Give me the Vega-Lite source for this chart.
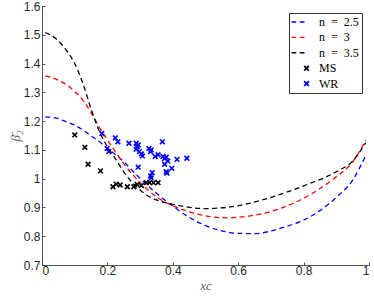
{
  "$schema": "https://vega.github.io/schema/vega-lite/v6.json",
  "autosize": "none",
  "width": 327,
  "height": 259,
  "padding": {"left": 42, "top": 6, "right": 5, "bottom": 33},
  "background": "white",
  "config": {
    "view": {"stroke": null},
    "axis": {
      "grid": false,
      "domainColor": "#262626",
      "domainWidth": 0.8,
      "tickColor": "#262626",
      "tickWidth": 0.8,
      "tickSize": -3,
      "labelFont": "Liberation Sans",
      "labelFontSize": 12,
      "labelColor": "#262626",
      "titleFont": "Liberation Serif",
      "titleFontStyle": "italic",
      "titleFontWeight": "normal",
      "titleFontSize": 13,
      "titleColor": "#666666"
    }
  },
  "datasets": {
    "curves": [
      {"s": "n = 2.5", "x": 0.01, "y": 1.215}, {"s": "n = 2.5", "x": 0.044, "y": 1.21}, {"s": "n = 2.5", "x": 0.074, "y": 1.198}, {"s": "n = 2.5", "x": 0.1, "y": 1.186}, {"s": "n = 2.5", "x": 0.125, "y": 1.169}, {"s": "n = 2.5", "x": 0.151, "y": 1.148}, {"s": "n = 2.5", "x": 0.176, "y": 1.128}, {"s": "n = 2.5", "x": 0.2, "y": 1.105}, {"s": "n = 2.5", "x": 0.227, "y": 1.082}, {"s": "n = 2.5", "x": 0.25, "y": 1.059}, {"s": "n = 2.5", "x": 0.278, "y": 1.026}, {"s": "n = 2.5", "x": 0.3, "y": 1.001}, {"s": "n = 2.5", "x": 0.35, "y": 0.949}, {"s": "n = 2.5", "x": 0.4, "y": 0.905}, {"s": "n = 2.5", "x": 0.45, "y": 0.866}, {"s": "n = 2.5", "x": 0.5, "y": 0.837}, {"s": "n = 2.5", "x": 0.56, "y": 0.816}, {"s": "n = 2.5", "x": 0.6, "y": 0.81}, {"s": "n = 2.5", "x": 0.65, "y": 0.809}, {"s": "n = 2.5", "x": 0.7, "y": 0.818}, {"s": "n = 2.5", "x": 0.75, "y": 0.835}, {"s": "n = 2.5", "x": 0.8, "y": 0.856}, {"s": "n = 2.5", "x": 0.85, "y": 0.889}, {"s": "n = 2.5", "x": 0.9, "y": 0.935}, {"s": "n = 2.5", "x": 0.95, "y": 0.995}, {"s": "n = 2.5", "x": 0.99, "y": 1.08},
      {"s": "n = 3", "x": 0.01, "y": 1.357}, {"s": "n = 3", "x": 0.044, "y": 1.345}, {"s": "n = 3", "x": 0.074, "y": 1.327}, {"s": "n = 3", "x": 0.1, "y": 1.303}, {"s": "n = 3", "x": 0.125, "y": 1.273}, {"s": "n = 3", "x": 0.151, "y": 1.228}, {"s": "n = 3", "x": 0.176, "y": 1.177}, {"s": "n = 3", "x": 0.2, "y": 1.135}, {"s": "n = 3", "x": 0.227, "y": 1.089}, {"s": "n = 3", "x": 0.25, "y": 1.052}, {"s": "n = 3", "x": 0.278, "y": 1.013}, {"s": "n = 3", "x": 0.3, "y": 0.987}, {"s": "n = 3", "x": 0.324, "y": 0.961}, {"s": "n = 3", "x": 0.35, "y": 0.937}, {"s": "n = 3", "x": 0.4, "y": 0.906}, {"s": "n = 3", "x": 0.45, "y": 0.885}, {"s": "n = 3", "x": 0.5, "y": 0.871}, {"s": "n = 3", "x": 0.56, "y": 0.864}, {"s": "n = 3", "x": 0.6, "y": 0.866}, {"s": "n = 3", "x": 0.7, "y": 0.886}, {"s": "n = 3", "x": 0.8, "y": 0.932}, {"s": "n = 3", "x": 0.9, "y": 1.007}, {"s": "n = 3", "x": 0.95, "y": 1.058}, {"s": "n = 3", "x": 0.99, "y": 1.133},
      {"s": "n = 3.5", "x": 0.01, "y": 1.508}, {"s": "n = 3.5", "x": 0.044, "y": 1.485}, {"s": "n = 3.5", "x": 0.074, "y": 1.447}, {"s": "n = 3.5", "x": 0.1, "y": 1.4}, {"s": "n = 3.5", "x": 0.125, "y": 1.331}, {"s": "n = 3.5", "x": 0.151, "y": 1.239}, {"s": "n = 3.5", "x": 0.176, "y": 1.163}, {"s": "n = 3.5", "x": 0.2, "y": 1.111}, {"s": "n = 3.5", "x": 0.227, "y": 1.065}, {"s": "n = 3.5", "x": 0.25, "y": 1.024}, {"s": "n = 3.5", "x": 0.278, "y": 0.984}, {"s": "n = 3.5", "x": 0.3, "y": 0.961}, {"s": "n = 3.5", "x": 0.324, "y": 0.94}, {"s": "n = 3.5", "x": 0.35, "y": 0.926}, {"s": "n = 3.5", "x": 0.4, "y": 0.911}, {"s": "n = 3.5", "x": 0.5, "y": 0.896}, {"s": "n = 3.5", "x": 0.6, "y": 0.906}, {"s": "n = 3.5", "x": 0.7, "y": 0.935}, {"s": "n = 3.5", "x": 0.8, "y": 0.975}, {"s": "n = 3.5", "x": 0.9, "y": 1.024}, {"s": "n = 3.5", "x": 0.95, "y": 1.061}, {"s": "n = 3.5", "x": 0.99, "y": 1.125}
    ],
    "points": [
      {"s": "MS", "x": 0.1, "y": 1.152}, {"s": "MS", "x": 0.131, "y": 1.109}, {"s": "MS", "x": 0.141, "y": 1.05}, {"s": "MS", "x": 0.179, "y": 1.027}, {"s": "MS", "x": 0.217, "y": 0.972}, {"s": "MS", "x": 0.227, "y": 0.981}, {"s": "MS", "x": 0.239, "y": 0.978}, {"s": "MS", "x": 0.261, "y": 0.972}, {"s": "MS", "x": 0.281, "y": 0.972}, {"s": "MS", "x": 0.291, "y": 0.98}, {"s": "MS", "x": 0.304, "y": 0.976}, {"s": "MS", "x": 0.319, "y": 0.986}, {"s": "MS", "x": 0.329, "y": 0.986}, {"s": "MS", "x": 0.341, "y": 0.986}, {"s": "MS", "x": 0.355, "y": 0.986},
      {"s": "WR", "x": 0.183, "y": 1.157}, {"s": "WR", "x": 0.224, "y": 1.142}, {"s": "WR", "x": 0.232, "y": 1.128}, {"s": "WR", "x": 0.199, "y": 1.105}, {"s": "WR", "x": 0.204, "y": 1.094}, {"s": "WR", "x": 0.266, "y": 1.123}, {"s": "WR", "x": 0.288, "y": 1.123}, {"s": "WR", "x": 0.291, "y": 1.111}, {"s": "WR", "x": 0.294, "y": 1.117}, {"s": "WR", "x": 0.288, "y": 1.102}, {"s": "WR", "x": 0.298, "y": 1.094}, {"s": "WR", "x": 0.307, "y": 1.079}, {"s": "WR", "x": 0.304, "y": 1.086}, {"s": "WR", "x": 0.327, "y": 1.105}, {"s": "WR", "x": 0.332, "y": 1.094}, {"s": "WR", "x": 0.334, "y": 1.1}, {"s": "WR", "x": 0.346, "y": 1.077}, {"s": "WR", "x": 0.355, "y": 1.083}, {"s": "WR", "x": 0.368, "y": 1.128}, {"s": "WR", "x": 0.37, "y": 1.077}, {"s": "WR", "x": 0.375, "y": 1.07}, {"s": "WR", "x": 0.38, "y": 1.075}, {"s": "WR", "x": 0.375, "y": 1.05}, {"s": "WR", "x": 0.385, "y": 1.061}, {"s": "WR", "x": 0.38, "y": 1.024}, {"s": "WR", "x": 0.382, "y": 1.019}, {"s": "WR", "x": 0.397, "y": 1.036}, {"s": "WR", "x": 0.413, "y": 1.067}, {"s": "WR", "x": 0.443, "y": 1.071}, {"s": "WR", "x": 0.294, "y": 1.04}, {"s": "WR", "x": 0.337, "y": 1.021}, {"s": "WR", "x": 0.332, "y": 1.01}, {"s": "WR", "x": 0.334, "y": 1.003}
    ]
  },
  "encoding": {
    "x": {
      "field": "x", "type": "quantitative",
      "scale": {"domain": [0, 1], "nice": false, "zero": false},
      "axis": {"values": [0, 0.2, 0.4, 0.6, 0.8, 1], "format": ".1~f", "title": "xc", "labelPadding": 3, "titlePadding": 3}
    },
    "y": {
      "field": "y", "type": "quantitative",
      "scale": {"domain": [0.7, 1.6], "nice": false, "zero": false},
      "axis": {"values": [0.7, 0.8, 0.9, 1, 1.1, 1.2, 1.3, 1.4, 1.5, 1.6], "format": ".1~f", "title": "β̄₂", "labelPadding": 5, "titlePadding": 1}
    },
    "color": {
      "field": "s", "type": "nominal",
      "scale": {
        "domain": ["n = 2.5", "n = 3", "n = 3.5", "MS", "WR"],
        "range": ["#0000ff", "#ff0000", "#000000", "#000000", "#0000ff"]
      },
      "legend": {
        "title": null,
        "orient": "none",
        "legendX": 247,
        "legendY": 7,
        "padding": 3,
        "strokeColor": "#333333",
        "fillColor": "white",
        "cornerRadius": 0,
        "symbolType": "M-1,0H-0.27M0.27,0H1",
        "symbolSize": 169,
        "symbolStrokeWidth": 1.5,
        "symbolFillColor": "transparent",
        "labelFont": "Liberation Serif",
        "labelFontSize": 12,
        "labelColor": "#000000",
        "labelOffset": 15,
        "labelExpr": "replace(datum.label, ' = ', '\u2002=\u2002')",
        "rowPadding": 3.4,
        "symbolOffset": 0,
        "encode": {
          "symbols": {
            "update": {
              "shape": {"signal": "datum.value === 'MS' || datum.value === 'WR' ? 'M0.95,-0.36L1.67,0.36M0.95,0.36L1.67,-0.36' : 'M-1,0H-0.27M0.27,0H1'"},
              "strokeWidth": {"signal": "datum.value === 'MS' || datum.value === 'WR' ? 1.8 : 1.4"},
              "fill": {"value": "transparent"},
              "strokeDash": {"value": []}
            }
          },
          "legend": {"update": {"strokeWidth": {"value": 1}}}
        }
      }
    }
  },
  "layer": [
    {
      "data": {"name": "curves"},
      "mark": {"type": "line", "strokeDash": [5, 3.5], "strokeWidth": 1.3, "interpolate": "monotone", "clip": true}
    },
    {
      "data": {"name": "points"},
      "mark": {"type": "point", "filled": false, "shape": "M-1,-1L1,1M-1,1L1,-1", "size": 22, "strokeWidth": 1.6, "opacity": 1}
    }
  ]
}
